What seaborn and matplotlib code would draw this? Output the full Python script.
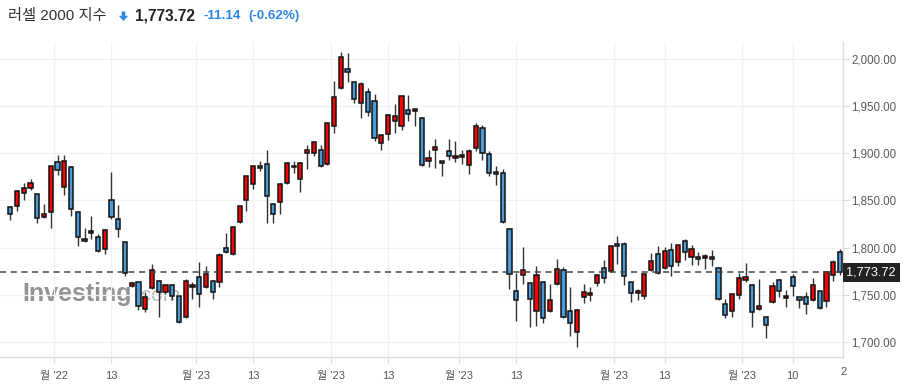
import numpy as np
import pandas as pd
import matplotlib
matplotlib.use("Agg")
import matplotlib.pyplot as plt
import seaborn as sns
from matplotlib.patches import Polygon
from matplotlib.transforms import blended_transform_factory

# ---------------- data (daily candles, Nov 21 2022 .. May 19 2023) ----------------
opens = [1843, 1844, 1857.5, 1863, 1856.5, 1832, 1838, 1891, 1864, 1885,
         1838, 1809, 1815, 1811, 1798, 1851, 1830, 1805.6, 1759.3, 1763,
         1734.6, 1757, 1765, 1752.6, 1760, 1748.7, 1726, 1758, 1768.5, 1758,
         1765, 1764, 1800, 1793, 1827, 1850, 1867, 1886, 1889, 1846,
         1848, 1869, 1887, 1873, 1900, 1900, 1903, 1889, 1929, 1969,
         1989, 1976, 1953, 1965, 1955, 1910.5, 1920, 1934, 1929, 1945.4,
         1944.4, 1937, 1891.4, 1903, 1891.4, 1902, 1894.6, 1895.7, 1888, 1906,
         1927, 1899, 1880, 1879, 1820, 1753.7, 1770.7, 1762, 1732.5, 1764,
         1732.5, 1761, 1776, 1732.5, 1710, 1747.4, 1749.5, 1762, 1778, 1775,
         1803.5, 1803.5, 1763, 1751.6, 1748.4, 1776, 1793, 1778, 1797, 1784.4,
         1806.7, 1789.7, 1789.7, 1788.7, 1789.7, 1778, 1740, 1732.5, 1749.5, 1765.4,
         1760, 1734.6, 1726, 1742, 1765.4, 1746.3, 1768.5, 1747.4, 1747.4, 1744.2,
         1753.7, 1743, 1770.7, 1795]
highs = [1844, 1861, 1868, 1873, 1857, 1846, 1886, 1898, 1898, 1886,
         1839, 1821, 1833, 1814, 1819.5, 1880, 1845, 1806, 1764, 1763.5,
         1753, 1783, 1766, 1760.5, 1761, 1749, 1766.5, 1763.6, 1785, 1781,
         1766, 1794, 1816, 1822, 1844.5, 1876, 1887, 1892, 1903, 1846.5,
         1868, 1891, 1892, 1891, 1909, 1912, 1909, 1932, 1977, 2007,
         2006, 1977, 1976, 1969, 1963, 1920, 1942, 1952, 1962, 1962,
         1947, 1938, 1904, 1915, 1892, 1915, 1912.6, 1904, 1905, 1932,
         1929.5, 1902, 1886, 1883, 1821, 1773, 1801, 1763, 1780, 1765,
         1761, 1787.6, 1779, 1758, 1735, 1761, 1758, 1771, 1786.5, 1802,
         1812, 1806, 1764, 1756, 1772, 1794, 1802, 1801, 1805, 1803,
         1809, 1802.4, 1795, 1793, 1797, 1779, 1745, 1751, 1773, 1784,
         1761, 1766.4, 1727, 1763, 1766.4, 1755, 1772, 1748, 1752.6, 1767.5,
         1754, 1775, 1786.5, 1799]
lows = [1829, 1839, 1851, 1861, 1826, 1831, 1821, 1877, 1856, 1834,
        1802, 1805.6, 1809, 1795, 1793, 1830, 1811.5, 1770, 1758, 1734,
        1732, 1756, 1726, 1751, 1744.5, 1720, 1725, 1746, 1737, 1757,
        1745, 1758.6, 1794, 1792, 1826, 1839, 1862, 1881, 1826, 1826,
        1836, 1867, 1879, 1859, 1883, 1897, 1885, 1888, 1922, 1968,
        1976, 1953, 1937, 1940, 1913, 1904, 1914, 1921, 1925, 1934,
        1928.5, 1887, 1885, 1884, 1875.5, 1892.5, 1891, 1889, 1877.6, 1902,
        1892.5, 1875.5, 1866, 1825.7, 1756, 1722, 1761, 1715.6, 1717, 1720,
        1732, 1760, 1725, 1706, 1694.4, 1741, 1743, 1759, 1762, 1774,
        1783, 1760, 1742, 1744, 1745, 1775, 1772, 1777, 1770, 1781,
        1786.5, 1782, 1782, 1777, 1781, 1744, 1725, 1726, 1746, 1764,
        1715.6, 1734, 1704, 1741, 1747.4, 1737, 1748.4, 1735.7, 1730, 1743,
        1735, 1737, 1765, 1770.7]
closes = [1836, 1860, 1863, 1868, 1831, 1836, 1886, 1882, 1892, 1840.6,
          1811.5, 1807, 1817.6, 1796, 1818.6, 1832, 1820, 1773.4, 1762.2, 1738,
          1747.4, 1776, 1753, 1760, 1748.4, 1721, 1765, 1760, 1750.5, 1771.7,
          1752.6, 1792, 1795, 1821.5, 1844, 1875.5, 1886, 1884, 1854.4, 1836,
          1867, 1890, 1885, 1890, 1903, 1911.5, 1886, 1931.6, 1960, 2001.7,
          1986, 1958, 1973, 1943.5, 1916, 1919, 1941, 1940, 1961, 1942,
          1946.5, 1888, 1894.6, 1907, 1889.3, 1896.7, 1896.7, 1897.8, 1902, 1928.5,
          1900, 1878.7, 1877.6, 1827, 1772, 1744, 1776, 1745, 1770.7, 1725,
          1744, 1777, 1726, 1720, 1733.6, 1752.6, 1751.6, 1770.7, 1767.5, 1801.4,
          1801.4, 1769.6, 1751.6, 1753.7, 1771.7, 1785.5, 1773, 1796, 1780, 1802.4,
          1795, 1798.2, 1787.6, 1790.8, 1787.6, 1745, 1729, 1750.5, 1767.5, 1768.5,
          1731.4, 1737.8, 1718, 1759, 1753.7, 1748.4, 1759, 1744.2, 1740, 1760,
          1735.7, 1773.8, 1784.4, 1773.72]

last_price = 1773.72
change = -11.14
change_pct = -0.62

# x-axis labels (trading-day index of the labelled candle)
month_tick_idx = [7, 28, 48, 67, 90, 109]
month_tick_labels = ["월 '22", "월 '23", "월 '23", "월 '23", "월 '23", "월 '23"]
day_tick_idx = [15, 36, 56, 75, 97, 116]
day_tick_labels = ["13", "13", "13", "13", "13", "10"]
y_ticks = [1700, 1750, 1800, 1850, 1900, 1950, 2000]

# ---------------- styling ----------------
sns.set_theme(style="white")
plt.rcParams["font.family"] = ["Liberation Sans", "Noto Sans CJK KR", "DejaVu Sans"]

UP = "#ff0000"
DOWN = "#4a9ad8"
BLUE_TXT = "#2b87e3"

df = pd.DataFrame({"open": opens, "high": highs, "low": lows, "close": closes})
df["idx"] = np.arange(len(df))
df["up"] = df["close"] >= df["open"]
df["bottom"] = df[["open", "close"]].min(axis=1)
df["height"] = (df["close"] - df["open"]).abs().clip(lower=1.2)

W, H = 906, 390
fig = plt.figure(figsize=(W / 100, H / 100), dpi=100)
fig.patch.set_facecolor("white")
ax = fig.add_axes([0, 1 - 357 / H, 843 / W, (357 - 42) / H])
ax.set_facecolor("white")

# watermark (behind candles)
wm_y = 1 - (301 - 42) / 315
ax.text(22 / 843, wm_y, "Investing", transform=ax.transAxes,
        fontsize=18, fontweight="bold", color="#808080", alpha=0.85,
        ha="left", va="baseline", zorder=0)
ax.text(135 / 843, wm_y, ".com", transform=ax.transAxes,
        fontsize=15, color="#b0b0b0", alpha=0.9,
        ha="left", va="baseline", zorder=0)

# wicks
ax.vlines(df["idx"], df["low"], df["high"], color="#333333", lw=1.0, zorder=2)
# bodies
colors = np.where(df["up"], UP, DOWN)
ax.bar(df["idx"], df["height"], bottom=df["bottom"], width=0.62,
       color=colors, edgecolor="#111111", linewidth=1.1, zorder=3)

# last price dashed line
ax.axhline(last_price, color="#444444", lw=1.1, ls=(0, (4, 3)), zorder=4)

ax.set_xlim(-1.53, 123.45)
ax.set_ylim(1684, 2018)

# x ticks
xt = [i - 0.5 for i in month_tick_idx] + day_tick_idx
xl = month_tick_labels + day_tick_labels
order = np.argsort(xt)
ax.set_xticks([xt[i] for i in order])
ax.set_xticklabels([xl[i] for i in order])
ax.set_yticks(y_ticks)
ax.set_yticklabels([f"{v:,.2f}" for v in y_ticks])
ax.yaxis.tick_right()

ax.tick_params(axis="x", colors="#dddddd", labelcolor="#555555", labelsize=8,
               length=4, width=0.8, pad=6, direction="out", bottom=True)
ax.tick_params(axis="y", colors="#dddddd", labelcolor="#5a5a5a", labelsize=8.3,
               length=4, width=0.8, pad=2, direction="out", right=True, left=False)

ax.grid(True, color="#f1f1f1", lw=0.9)
ax.set_axisbelow(True)
for s in ["top", "left"]:
    ax.spines[s].set_visible(False)
for s in ["right", "bottom"]:
    ax.spines[s].set_visible(True)
    ax.spines[s].set_color("#dddddd")
    ax.spines[s].set_linewidth(1.0)

# clipped "22" tick label at right edge
fig.text(843.5 / W, 1 - 372 / H, "2", fontsize=8, color="#555555",
         ha="center", va="center")

# last price box
tr = blended_transform_factory(ax.transAxes, ax.transData)
ax.text(1.004, last_price, f"{last_price:,.2f}", transform=tr, color="white",
        fontsize=9.2, ha="left", va="center", clip_on=False, zorder=10,
        bbox=dict(boxstyle="square,pad=0.3", fc="#222222", ec="none"))

# ---------------- header ----------------
fy = 1 - 16 / H
fig.text(8 / W, fy, "러셀 2000 지수", fontsize=11, color="#333333",
         ha="left", va="center")
arrow = Polygon([(121.7, H - 11.5), (125.3, H - 11.5), (125.3, H - 15.8),
                 (128.2, H - 15.8), (123.5, H - 21), (118.8, H - 15.8),
                 (121.7, H - 15.8)], closed=True, transform=None,
                fc=BLUE_TXT, ec="none")
fig.patches.append(arrow)
fig.text(135 / W, fy, f"{last_price:,.2f}", fontsize=11.2, fontweight="bold",
         color="#222222", ha="left", va="center")
fig.text(204 / W, fy, f"{change:.2f}", fontsize=9.6, fontweight="bold",
         color=BLUE_TXT, ha="left", va="center")
fig.text(248 / W, fy, f"({change_pct:.2f}%)", fontsize=9.6, fontweight="bold",
         color=BLUE_TXT, ha="left", va="center")

fig.savefig("out.png", dpi=100, facecolor="white")
